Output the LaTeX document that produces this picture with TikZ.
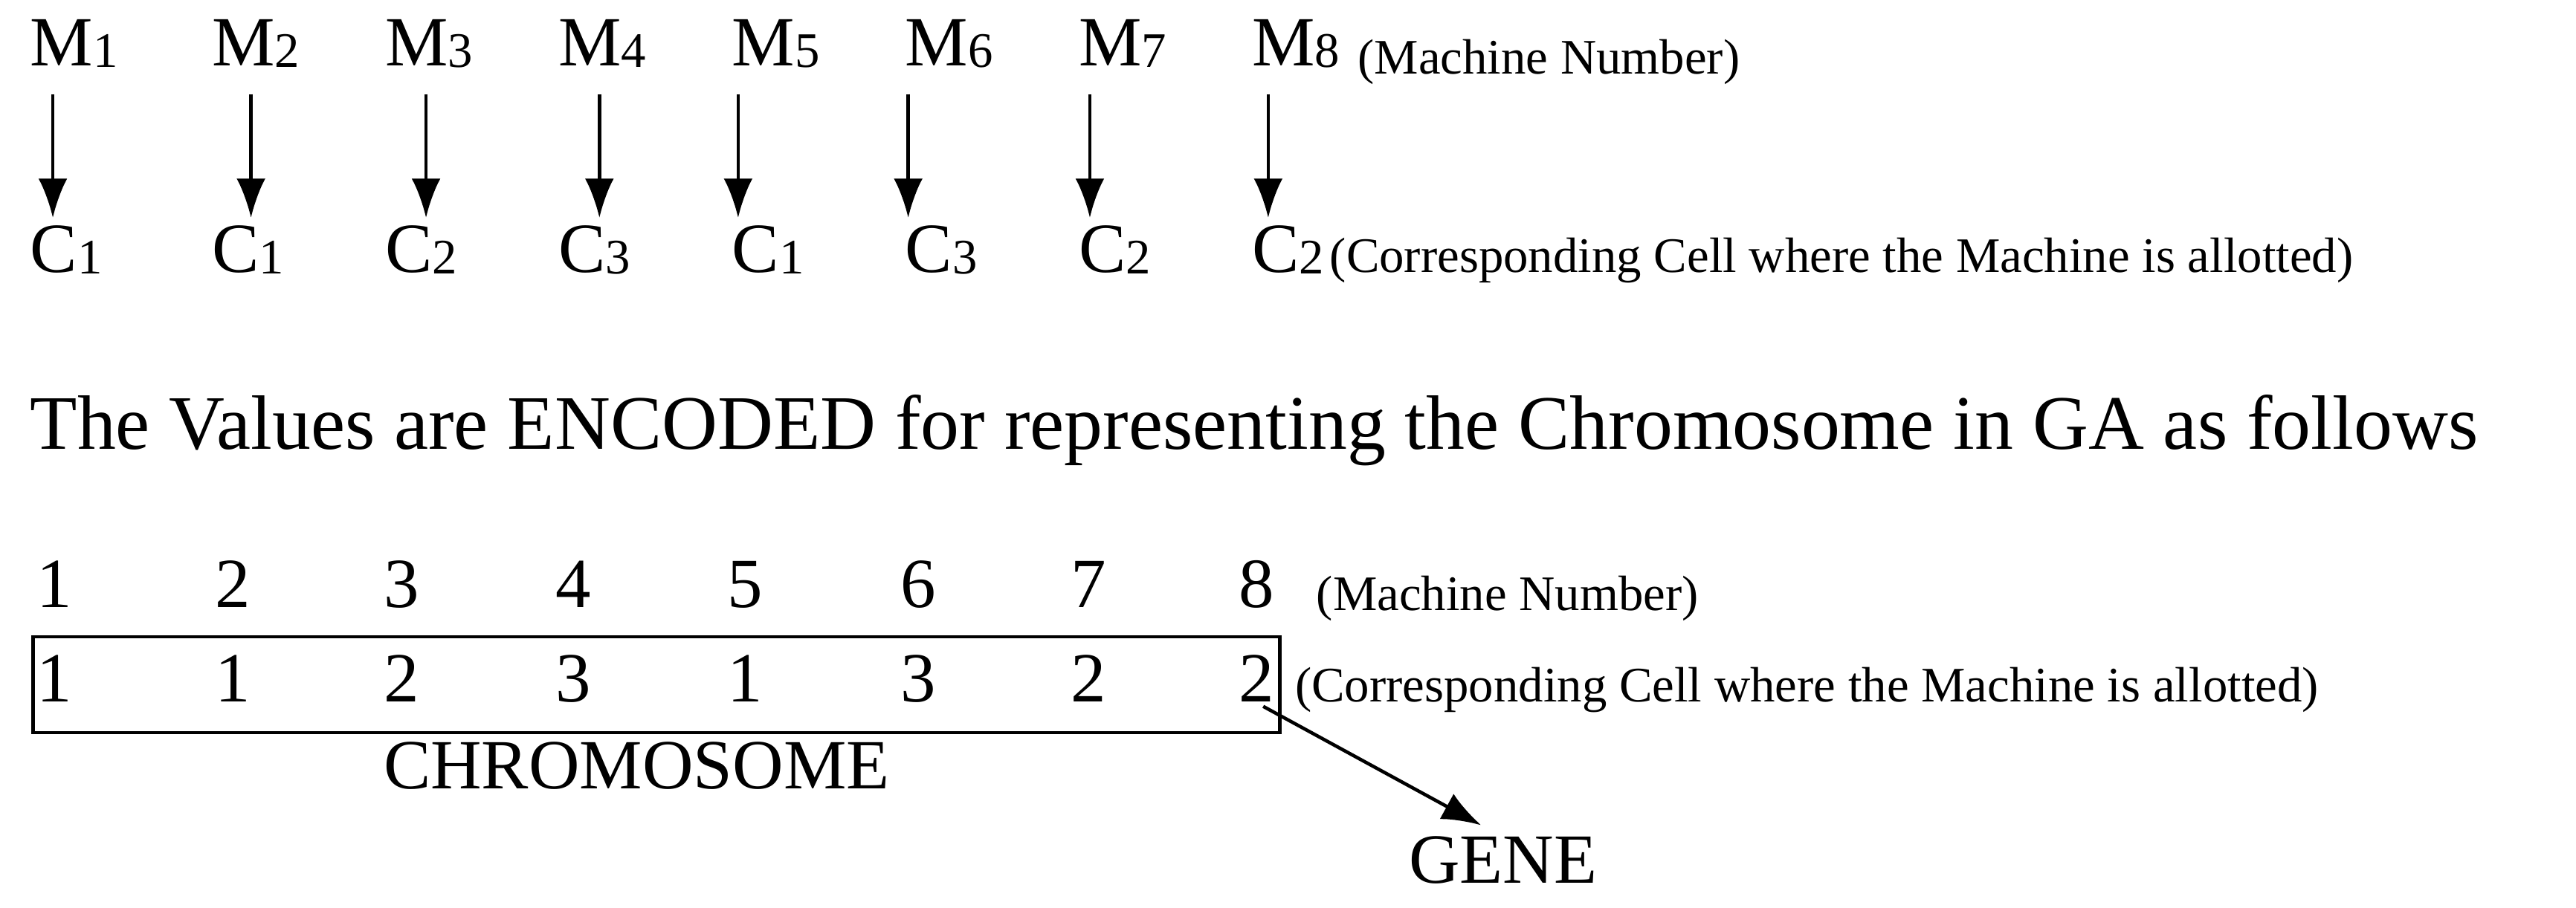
\documentclass[tikz,border=0pt]{standalone}
\usepackage{fontspec}
\setmainfont{Liberation Serif}
\usetikzlibrary{arrows.meta}
\begin{document}
\begin{tikzpicture}[x=0.0222cm,y=-0.0222cm,
  big/.style={inner sep=0pt,anchor=base west,font=\fontsize{27}{30}\selectfont},
  small/.style={inner sep=0pt,anchor=base west,font=\fontsize{19}{21}\selectfont},
  arr/.style={-{Latex[length=15pt,width=11pt]},line width=1.3pt}]
\useasboundingbox (0,0) rectangle (1560,550);
\newcommand{\ms}[2]{#1\raisebox{-0.5pt}{\fontsize{19}{20}\selectfont #2}}
\foreach \x/\i in {18/1,128/2,233/3,338/4,443/5,548/6,653/7,758/8}{
  \node[big] (m\i) at (\x,40) {\ms{M}{\i}};
}
\node[small] (mn1) at (822,45) {(Machine Number)};
\foreach \x/\i/\c in {18/1/1,128/2/1,233/3/2,338/4/3,443/5/1,548/6/3,653/7/2,758/8/2}{
  \node[big] (c\i) at (\x,165) {\ms{C}{\c}};
}
\foreach \x/\i in {32/1,152/2,258/3,363/4,447/5,550/6,660/7,768/8}{
  \coordinate (a\i) at (\x,57);
  \coordinate (b\i) at (\x,132);
  \draw[arr] (a\i) -- (b\i);
}
\node[small] (cc1) at (805,165) {(Corresponding Cell where the Machine is allotted)};
\node[big,font=\fontsize{29.5}{32}\selectfont] (sent) at (18,272) {The Values are ENCODED for representing the Chromosome in GA as follows};
\foreach \x/\i in {22/1,130/2,232/3,336/4,440/5,545/6,648/7,750/8}{
  \node[big] (n\i) at (\x,368) {\i};
}
\node[small] (mn2) at (797,370) {(Machine Number)};
\foreach \x/\i/\c in {22/1/1,130/2/1,232/3/2,336/4/3,440/5/1,545/6/3,648/7/2,750/8/2}{
  \node[big] (g\i) at (\x,425) {\c};
}
\draw[line width=1.2pt] (20,386) rectangle (775,444);
\node[small] (cc2) at (784,425) {(Corresponding Cell where the Machine is allotted)};
\node[big] (chr) at (232,478) {CHROMOSOME};
\coordinate (gs) at (765,428);
\node[big] (gene) at (853,535) {GENE};
\draw[arr] (gs) -- (897,500);
\end{tikzpicture}
\end{document}
